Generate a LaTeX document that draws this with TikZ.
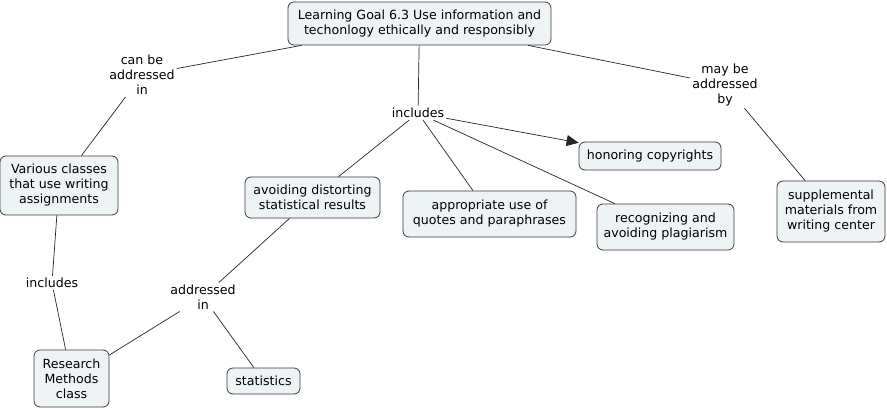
\documentclass[tikz,border=0pt]{standalone}
\usepackage{fontspec}
\setmainfont{DejaVu Sans}
\usetikzlibrary{arrows.meta}
\definecolor{boxfill}{RGB}{238,243,245}
\definecolor{boxline}{RGB}{60,60,60}
\begin{document}
\begin{tikzpicture}[x=1pt,y=-1pt,
  concept/.style={draw=boxline,fill=boxfill,rounded corners=6pt,align=center,inner sep=2pt,
    font=\fontsize{12.6}{15}\selectfont,line width=0.8pt},
  linkword/.style={align=center,inner sep=2pt,font=\fontsize{12.6}{15}\selectfont},
  conn/.style={draw=black!85,line width=0.7pt}]
\useasboundingbox (0,0) rectangle (887,409);
\fill[white] (0,0) rectangle (887,409);
% concepts
\node[concept,minimum width=263,minimum height=43] (goal) at (419.5,23.5) {Learning Goal 6.3 Use information and\\techonlogy ethically and responsibly};
\node[concept,minimum width=118,minimum height=59] (various) at (59,185.5) {Various classes\\that use writing\\assignments};
\node[concept,minimum width=75,minimum height=57] (research) at (71.5,378.5) {Research\\Methods\\class};
\node[concept,minimum width=73,minimum height=26] (stats) at (263.5,381) {statistics};
\node[concept,minimum width=135,minimum height=41] (avoid) at (312.5,197.5) {avoiding distorting\\statistical results};
\node[concept,minimum width=142,minimum height=28] (honor) at (650,156) {honoring copyrights};
\node[concept,minimum width=173,minimum height=46] (approp) at (489.5,214) {appropriate use of\\quotes and paraphrases};
\node[concept,minimum width=137,minimum height=46] (recog) at (665.5,227) {recognizing and\\avoiding plagiarism};
\node[concept,minimum width=108,minimum height=61] (suppl) at (831,211.5) {supplemental\\materials from\\writing center};
% linking words
\node[linkword] (canbe) at (142,75) {can be\\addressed\\in};
\node[linkword] (inclL) at (52,283) {includes};
\node[linkword] (addrin) at (203,297) {addressed\\in};
\node[linkword] (inclM) at (418,113) {includes};
\node[linkword] (maybe) at (725,85) {may be\\addressed\\by};
% connectors
\draw[conn] (goal) -- (canbe);
\draw[conn] (canbe) -- (various);
\draw[conn] (various) -- (inclL);
\draw[conn] (inclL) -- (research);
\draw[conn] (avoid) -- (addrin);
\draw[conn] (addrin) -- (research);
\draw[conn] (addrin) -- (stats);
\draw[conn] (goal) -- (inclM);
\draw[conn] (inclM) -- (avoid);
\draw[conn,-{Triangle[length=12pt,width=11pt]}] (inclM) -- (honor);
\draw[conn] (inclM) -- (approp);
\draw[conn] (inclM) -- (recog);
\draw[conn] (goal) -- (maybe);
\draw[conn] (maybe) -- (suppl);
\end{tikzpicture}
\end{document}
